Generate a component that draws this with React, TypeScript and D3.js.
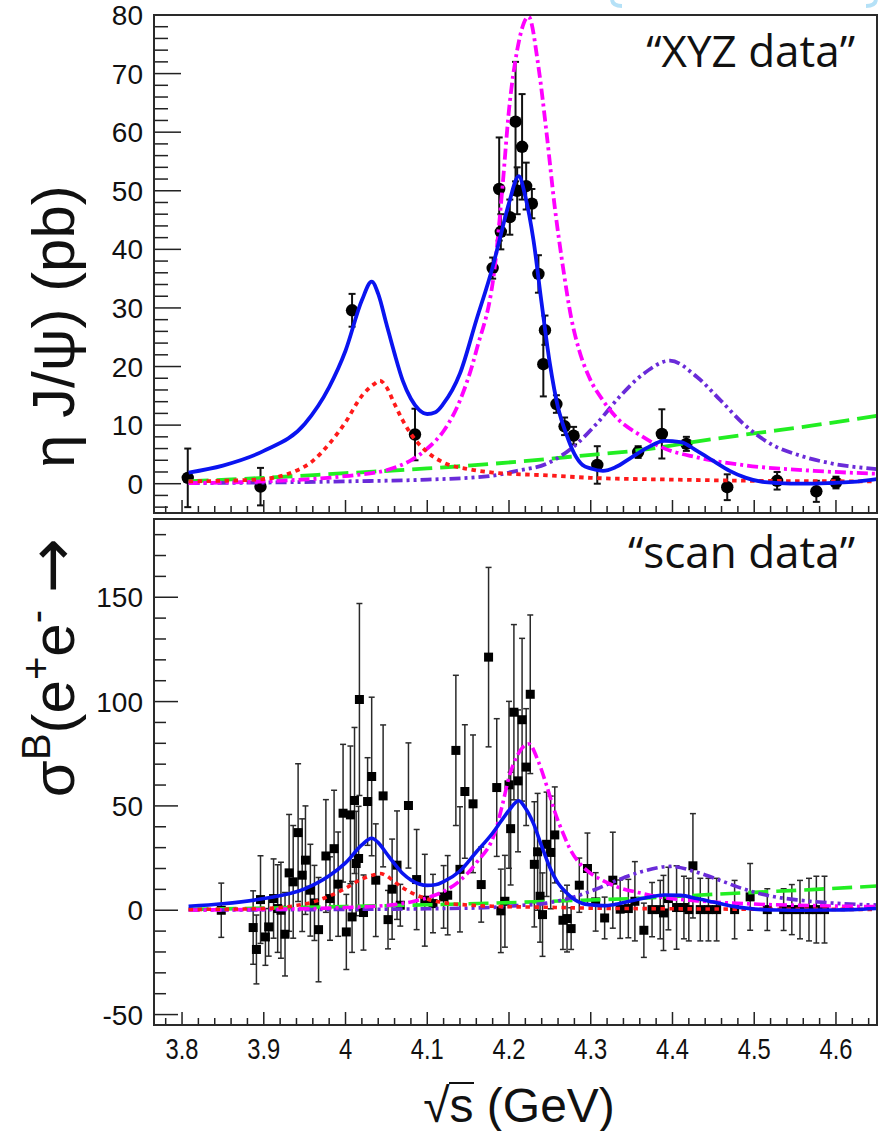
import React from 'react';
import * as d3 from 'd3';

// ---------- axis ticks ----------
const xTickValues = [3.8, 3.9, 4.0, 4.1, 4.2, 4.3, 4.4, 4.5, 4.6];
const xTickLabels = ['3.8', '3.9', '4', '4.1', '4.2', '4.3', '4.4', '4.5', '4.6'];
const topYTicks = [0, 10, 20, 30, 40, 50, 60, 70, 80];
const topYLabels = ['0', '10', '20', '30', '40', '50', '60', '70', '80'];
const botYTicks = [-50, 0, 50, 100, 150];
const botYLabels = ['-50', '0', '50', '100', '150'];

// ---------- "XYZ data" (top panel) ----------
const xyzX = [3.807, 3.896, 4.008, 4.085, 4.180, 4.188, 4.190, 4.201, 4.208, 4.210, 4.216, 4.221, 4.228, 4.236, 4.242, 4.244, 4.258, 4.268, 4.279, 4.308, 4.358, 4.387, 4.417, 4.467, 4.528, 4.576, 4.600];
const xyzY = [1.0, -0.5, 29.6, 8.4, 36.8, 50.3, 43.0, 45.5, 61.8, 50.0, 57.5, 50.8, 47.8, 35.8, 20.4, 26.2, 13.6, 9.8, 8.2, 3.2, 5.4, 8.5, 6.8, -0.6, 0.5, -1.3, 0.2];
const xyzErr = [5.0, 3.2, 2.8, 4.4, 1.8, 8.8, 3.0, 3.0, 10.2, 4.0, 9.0, 4.0, 2.5, 3.2, 5.5, 2.5, 1.5, 1.5, 1.5, 3.2, 1.0, 4.2, 1.2, 2.2, 1.5, 1.8, 1.0];

// ---------- "scan data" (bottom panel) ----------
const scanX = [3.848, 3.887, 3.891, 3.896, 3.902, 3.906, 3.912, 3.917, 3.921, 3.926, 3.931, 3.936, 3.942, 3.947, 3.951, 3.957, 3.962, 3.967, 3.976, 3.981, 3.986, 3.991, 3.997, 4.001, 4.006, 4.008, 4.011, 4.013, 4.016, 4.017, 4.022, 4.027, 4.032, 4.037, 4.046, 4.052, 4.057, 4.063, 4.067, 4.077, 4.087, 4.097, 4.107, 4.120, 4.125, 4.135, 4.140, 4.146, 4.156, 4.166, 4.175, 4.185, 4.190, 4.195, 4.200, 4.202, 4.206, 4.211, 4.216, 4.221, 4.226, 4.231, 4.235, 4.238, 4.241, 4.246, 4.251, 4.256, 4.266, 4.271, 4.276, 4.286, 4.296, 4.306, 4.317, 4.327, 4.336, 4.346, 4.354, 4.365, 4.375, 4.385, 4.389, 4.395, 4.405, 4.414, 4.420, 4.425, 4.434, 4.444, 4.454, 4.476, 4.495, 4.516, 4.536, 4.546, 4.556, 4.567, 4.576, 4.586];
const scanY = [0.0, -8.3, -18.8, 5.1, -12.8, -8.0, 5.6, 0.8, 0.0, -11.5, 17.9, 13.6, 37.2, 16.8, 24.0, 9.6, 3.5, -9.3, 26.0, 5.6, 29.5, 12.5, 46.5, -10.4, 45.7, -3.2, 52.6, 22.4, 24.8, 101.0, -1.1, 52.1, 64.1, 14.4, 54.8, -4.5, 10.1, 21.6, 2.4, 50.2, 14.7, 4.8, 3.2, 6.4, 7.2, 76.6, 19.6, 56.9, 51.0, 12.3, 121.3, 58.8, -0.3, 4.3, 60.1, 39.1, 94.9, 62.0, 91.3, 68.6, 103.5, 22.0, 28.0, 6.7, -2.1, 31.6, 27.7, 36.1, -4.8, -4.0, -8.8, 12.0, 20.0, 4.0, -3.7, 14.4, 0.5, 0.8, 4.3, -9.6, 0.3, 0.3, -1.3, 5.6, 1.3, 1.3, 0.3, 21.3, 0.3, 0.3, 0.3, 0.3, 6.4, 0.3, 0.3, 0.3, 0.3, 0.3, 0.3, 0.3];
const scanErr = [13, 17.6, 16.5, 21, 13.6, 14, 19, 21, 23, 20, 28, 27, 33, 27, 26, 22, 18, 25, 27, 20, 28, 25, 33, 18, 33, 17, 35, 25, 25, 46, 18, 21, 38, 27, 34, 14, 24, 26, 10, 30, 24, 22, 14, 15, 19, 36, 30, 32, 33, 18, 43, 33, 20, 22, 40, 27, 42, 34, 39, 28, 38, 30, 28, 22, 20, 25, 27, 23, 14, 16, 10, 13, 17, 14, 10, 23, 14, 14, 19, 13, 13, 14, 18, 15, 20, 15, 15, 25, 15, 15, 15, 14, 16, 10, 10, 12, 14, 15, 16, 16];

// ---------- fit components ----------
const totalX = [3.808, 3.85, 3.9, 3.95, 3.98, 4.0, 4.02, 4.032, 4.04, 4.05, 4.06, 4.07, 4.08, 4.09, 4.1, 4.11, 4.12, 4.14, 4.16, 4.18, 4.19, 4.2, 4.212, 4.22, 4.23, 4.24, 4.25, 4.26, 4.27, 4.28, 4.29, 4.3, 4.315, 4.33, 4.35, 4.37, 4.39, 4.41, 4.43, 4.45, 4.47, 4.49, 4.51, 4.53, 4.56, 4.59, 4.62, 4.65];
const totalY = [1.9, 3.1, 5.6, 10.2, 16.5, 22.7, 31.3, 34.5, 32.4, 27.3, 22.2, 17.6, 14.5, 12.6, 11.9, 12.2, 13.7, 18.8, 27.9, 37.0, 42.5, 47.9, 52.5, 49.0, 41.5, 30.7, 20.5, 13.0, 8.5, 5.1, 3.2, 2.6, 2.2, 2.8, 4.5, 6.2, 7.3, 7.1, 5.6, 3.9, 2.2, 1.0, 0.3, 0.1, 0.0, 0.1, 0.3, 0.8];
const redX = [3.808, 3.85, 3.9, 3.93, 3.96, 3.98, 4.0, 4.02, 4.035, 4.042, 4.05, 4.06, 4.07, 4.08, 4.1, 4.12, 4.15, 4.18, 4.25, 4.3, 4.4, 4.5, 4.65];
const redY = [0.4, 0.5, 0.8, 1.7, 3.9, 6.8, 10.5, 15.0, 17.0, 17.6, 16.5, 13.6, 10.8, 8.5, 5.4, 3.6, 2.5, 1.9, 1.4, 1.0, 0.7, 0.5, 0.4];
const magX = [3.808, 3.9, 4.0, 4.05, 4.08, 4.1, 4.12, 4.14, 4.16, 4.184, 4.192, 4.2, 4.21, 4.224, 4.236, 4.246, 4.256, 4.266, 4.276, 4.286, 4.298, 4.315, 4.335, 4.358, 4.387, 4.43, 4.491, 4.573, 4.65];
const magY = [0.1, 0.4, 1.3, 2.3, 4.0, 6.0, 9.0, 14.2, 22.7, 38.7, 50.6, 63.8, 74.0, 79.7, 71.2, 59.8, 47.2, 37.0, 28.4, 22.7, 18.2, 14.2, 10.8, 8.5, 6.2, 4.5, 3.1, 2.2, 1.7];
const purX = [3.808, 3.9, 4.0, 4.1, 4.176, 4.21, 4.246, 4.278, 4.307, 4.335, 4.364, 4.397, 4.43, 4.459, 4.487, 4.52, 4.556, 4.597, 4.65];
const purY = [0.1, 0.2, 0.4, 0.7, 1.3, 2.2, 3.4, 6.2, 10.2, 14.8, 18.7, 21.0, 18.2, 14.2, 10.2, 6.8, 4.8, 3.4, 2.5];
const bkgX = [3.808, 3.9, 4.0, 4.1, 4.18, 4.29, 4.37, 4.42, 4.49, 4.57, 4.65];
const bkgY = [0.4, 1.0, 1.8, 2.6, 3.4, 4.8, 5.9, 7.0, 8.4, 9.9, 11.6];

const W = 889;
const H = 1131;
const L = 154;
const R = 877;
const T1 = 15, B1 = 513, T2 = 519, B2 = 1025;
const FONT = "'Liberation Sans', Arial, Helvetica, sans-serif";

export default function App() {
  const x = d3.scaleLinear().domain([3.7657, 4.6502]).range([L, R]);
  const yTop = d3.scaleLinear().domain([-5, 80]).range([B1, T1]);
  const yBot = d3.scaleLinear().domain([-55, 187.5]).range([B2, T2]);

  const curves = [
    { xs: bkgX, ys: bkgY, color: '#22ee22', dash: '20 8' },
    { xs: purX, ys: purY, color: '#6a2bd9', dash: '11 4 3 4 3 4' },
    { xs: magX, ys: magY, color: '#ff00ff', dash: '11 4 3 4' },
    { xs: redX, ys: redY, color: '#ff1a1a', dash: '4.5 4.5' },
    { xs: totalX, ys: totalY, color: '#0a14f0', dash: null as string | null },
  ];

  const minorX = d3.range(3.78, 4.6501, 0.02);

  const drawCurves = (yS: d3.ScaleLinear<number, number>, sw: number, clip: string) => (
    <g clipPath={`url(#${clip})`}>
      {curves.map((c, ci) => {
        const gen = d3
          .line<number>()
          .x((d, i) => x(c.xs[i]))
          .y((d) => yS(d))
          .curve(d3.curveMonotoneX);
        return (
          <path
            key={ci}
            d={gen(c.ys) || ''}
            fill="none"
            stroke={c.color}
            strokeWidth={sw}
            strokeDasharray={c.dash || undefined}
            strokeLinejoin="round"
          />
        );
      })}
    </g>
  );

  const frame = (top: number, bottom: number) => (
    <rect x={L} y={top} width={R - L} height={bottom - top} fill="none" stroke="#2a2a2a" strokeWidth={2} />
  );

  const xTicks = (bottom: number) => (
    <g stroke="#222" strokeWidth={1.5}>
      {minorX.map((v, i) => {
        const isMajor = Math.abs(Math.round(v * 10) / 10 - v) < 1e-6;
        const len = isMajor ? 13 : 7;
        return <line key={i} x1={x(v)} x2={x(v)} y1={bottom} y2={bottom - len} />;
      })}
    </g>
  );

  const yTicksG = (
    yS: d3.ScaleLinear<number, number>,
    from: number,
    to: number,
    step: number,
    majorEvery: number,
    majLen: number,
    minLen: number
  ) => {
    const vals = d3.range(from, to + step / 2, step);
    return (
      <g stroke="#222" strokeWidth={1.5}>
        {vals.map((v, i) => {
          const isMajor = Math.abs(v % majorEvery) < 1e-6;
          return <line key={i} x1={L} x2={L + (isMajor ? majLen : minLen)} y1={yS(v)} y2={yS(v)} />;
        })}
      </g>
    );
  };

  return (
    <svg
      width={W}
      height={H}
      viewBox={`0 0 ${W} ${H}`}
      style={{ position: 'absolute', left: 0, top: 0, background: '#fff' }}
      fontFamily={FONT}
    >
      <defs>
        <clipPath id="clipTop">
          <rect x={L} y={T1} width={R - L} height={B1 - T1} />
        </clipPath>
        <clipPath id="clipBot">
          <rect x={L} y={T2} width={R - L} height={B2 - T2} />
        </clipPath>
      </defs>
      <rect x={0} y={0} width={W} height={H} fill="#fff" />

      {/* faint decoration at top */}
      <path d="M612 0 Q613 6 622 6" fill="none" stroke="#b5e1f7" strokeWidth={4} />
      <path d="M866 6 Q875 6 876 0" fill="none" stroke="#b5e1f7" strokeWidth={4} />

      {/* ===== top panel ===== */}
      <g clipPath="url(#clipTop)">
        {xyzX.map((xv, i) => {
          const cx = x(xv);
          const y0 = yTop(xyzY[i] - xyzErr[i]);
          const y1 = yTop(xyzY[i] + xyzErr[i]);
          return (
            <g key={i} stroke="#111" strokeWidth={2}>
              <line x1={cx} x2={cx} y1={y0} y2={y1} />
              <line x1={cx - 3.5} x2={cx + 3.5} y1={y0} y2={y0} />
              <line x1={cx - 3.5} x2={cx + 3.5} y1={y1} y2={y1} />
            </g>
          );
        })}
        {xyzX.map((xv, i) => (
          <circle key={i} cx={x(xv)} cy={yTop(xyzY[i])} r={6.2} fill="#000" />
        ))}
      </g>
      {drawCurves(yTop, 3.8, 'clipTop')}
      {xTicks(B1)}
      {yTicksG(yTop, -4, 80, 2, 10, 27, 14)}
      {frame(T1, B1)}
      {topYTicks.map((v, i) => (
        <text key={i} x={143} y={yTop(v)} dy="0.36em" textAnchor="end" fontSize={28} fill="#111">
          {topYLabels[i]}
        </text>
      ))}
      <text x={855} y={67} textAnchor="end" fontSize={44} fontFamily="'Open Sans', 'Noto Sans', sans-serif" fill="#111">
        {'\u201CXYZ data\u201D'}
      </text>

      {/* ===== bottom panel ===== */}
      <g clipPath="url(#clipBot)">
        {scanX.map((xv, i) => {
          const cx = x(xv);
          const y0 = yBot(scanY[i] - scanErr[i]);
          const y1 = yBot(scanY[i] + scanErr[i]);
          return (
            <g key={i} stroke="#2a2a2a" strokeWidth={1.5}>
              <line x1={cx} x2={cx} y1={y0} y2={y1} />
              <line x1={cx - 3} x2={cx + 3} y1={y0} y2={y0} />
              <line x1={cx - 3} x2={cx + 3} y1={y1} y2={y1} />
            </g>
          );
        })}
        {scanX.map((xv, i) => (
          <rect key={i} x={x(xv) - 4.5} y={yBot(scanY[i]) - 4.5} width={9} height={9} fill="#000" />
        ))}
      </g>
      {drawCurves(yBot, 3.6, 'clipBot')}
      {xTicks(B2)}
      {yTicksG(yBot, -50, 180, 10, 50, 24, 12)}
      {frame(T2, B2)}
      {botYTicks.map((v, i) => (
        <text key={i} x={143} y={yBot(v)} dy="0.36em" textAnchor="end" fontSize={28} fill="#111">
          {botYLabels[i]}
        </text>
      ))}
      <text x={855} y={568} textAnchor="end" fontSize={44} fontFamily="'Open Sans', 'Noto Sans', sans-serif" fill="#111">
        {'\u201Cscan data\u201D'}
      </text>

      {/* x tick labels */}
      {xTickValues.map((v, i) => (
        <text
          key={i}
          transform={`translate(${x(v)},1059) scale(0.82,1)`}
          textAnchor="middle"
          fontSize={29}
          fill="#111"
        >
          {xTickLabels[i]}
        </text>
      ))}

      {/* x title */}
      <text x={519} y={1122} textAnchor="middle" fontSize={48} fill="#111">
        {'\u221As (GeV)'}
      </text>
      <line x1={449} x2={474} y1={1083} y2={1083} stroke="#111" strokeWidth={2} />

      {/* y title */}
      <text transform="translate(74,538) rotate(-90)" textAnchor="end" fontSize={60} fill="#111">
        {'\u03C3'}
        <tspan dy={-24} fontSize={40}>B</tspan>
        <tspan dy={24}>(e</tspan>
        <tspan dy={-24} fontSize={40}>+</tspan>
        <tspan dy={24}>e</tspan>
        <tspan dy={-24} fontSize={40}>-</tspan>
        <tspan dy={24}>{' '}</tspan>
        <tspan fontSize={66} fontFamily="'DejaVu Sans', sans-serif">{'\u2192'}</tspan>
      </text>
      <text transform="translate(74,468) rotate(-90)" textAnchor="start" fontSize={60} fill="#111">
        {'\u03B7 J/\u03C8) (pb)'}
      </text>
    </svg>
  );
}
